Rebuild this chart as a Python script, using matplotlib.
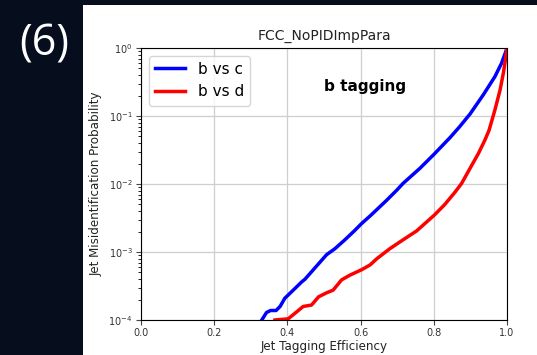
import matplotlib.pyplot as plt
from matplotlib.patches import Rectangle

# ── data (efficiency, misidentification probability) ──
eff_bc = [0.330, 0.343, 0.354, 0.369, 0.380, 0.393, 0.416, 0.439, 0.448, 0.471,
          0.507, 0.530, 0.557, 0.581, 0.603, 0.626, 0.671, 0.699, 0.716, 0.762,
          0.801, 0.844, 0.870, 0.899, 0.935, 0.967, 0.985, 0.995, 1.000]
mis_bc = [1.00e-4, 1.29e-4, 1.38e-4, 1.38e-4, 1.58e-4, 2.09e-4, 2.75e-4, 3.63e-4,
          3.98e-4, 5.50e-4, 9.12e-4, 1.12e-3, 1.51e-3, 2.00e-3, 2.63e-3, 3.39e-3,
          5.75e-3, 8.13e-3, 1.02e-2, 1.70e-2, 2.75e-2, 4.79e-2, 6.90e-2, 0.107,
          0.204, 0.380, 0.596, 0.836, 1.0]

eff_bd = [0.366, 0.402, 0.421, 0.443, 0.466, 0.485, 0.507, 0.525, 0.548, 0.571,
          0.603, 0.626, 0.644, 0.680, 0.716, 0.753, 0.801, 0.830, 0.858, 0.876,
          0.899, 0.922, 0.940, 0.951, 0.967, 0.981, 0.990, 0.997, 1.000]
mis_bd = [1.00e-4, 1.04e-4, 1.26e-4, 1.58e-4, 1.66e-4, 2.19e-4, 2.51e-4, 2.75e-4,
          3.89e-4, 4.57e-4, 5.50e-4, 6.46e-4, 7.94e-4, 1.12e-3, 1.51e-3, 2.04e-3,
          3.47e-3, 5.00e-3, 7.60e-3, 1.02e-2, 1.70e-2, 2.82e-2, 4.47e-2, 6.17e-2,
          0.123, 0.240, 0.427, 0.741, 1.0]

x_ticks = [0.0, 0.2, 0.4, 0.6, 0.8, 1.0]

# ── figure: dark slide background with white plot panel ─────────────────────
W, H = 537, 355
fig = plt.figure(figsize=(W / 100, H / 100), dpi=100, facecolor="#060e1e")
fig.patches.append(Rectangle((83 / W, 0), 1 - 83 / W, (H - 5) / H,
                             transform=fig.transFigure, facecolor="white",
                             edgecolor="none", zorder=-5))
fig.text(44 / W, 1 - 44 / H, "(6)", color="white", fontsize=31,
         family=["Open Sans", "DejaVu Sans"], ha="center", va="center")

ax = fig.add_axes([141 / W, 1 - 320 / H, (507 - 141) / W, (320 - 48) / H])
ax.plot(eff_bc, mis_bc, color="blue", lw=2.5, label="b vs c")
ax.plot(eff_bd, mis_bd, color="red", lw=2.5, label="b vs d")

ax.set_yscale("log")
ax.set_xlim(0, 1)
ax.set_ylim(1e-4, 1)
ax.set_xticks(x_ticks)
ax.tick_params(labelsize=7, colors="#333333", pad=2.5)
ax.tick_params(axis="both", color="#444444")
ax.grid(True, color="#cfcfcf", lw=0.9)

ax.set_title("FCC_NoPIDImpPara", fontsize=10, color="#222222")
ax.set_xlabel("Jet Tagging Efficiency", fontsize=8.6, labelpad=1, color="#222222")
ax.set_ylabel("Jet Misidentification Probability", fontsize=8.6, color="#222222")
ax.text(0.613, 0.86, "b tagging", transform=ax.transAxes, fontsize=11,
        fontweight="bold", ha="center", va="center")
ax.legend(loc="upper left", fontsize=11)

fig.savefig("out.png", dpi=100, facecolor=fig.get_facecolor())
